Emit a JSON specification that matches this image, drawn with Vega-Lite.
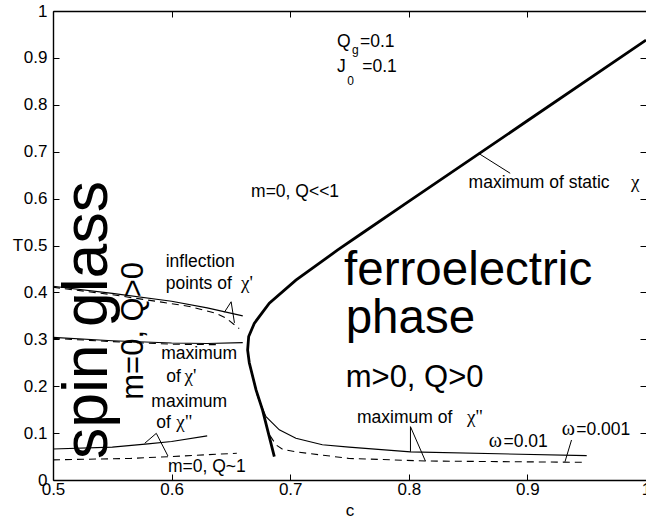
{
  "$schema": "https://vega.github.io/schema/vega-lite/v6.json",
  "width": 593,
  "height": 469,
  "autosize": {"type": "none"},
  "padding": {"left": 53, "top": 11, "right": 0, "bottom": 38},
  "config": {
    "view": {"stroke": null},
    "font": "Liberation Sans",
    "axis": {
      "grid": false,
      "domainColor": "black",
      "domainWidth": 1.4,
      "tickColor": "black",
      "tickWidth": 1,
      "tickSize": -6,
      "labelColor": "black",
      "labelFont": "Liberation Sans",
      "labelFontSize": 17,
      "labelFlush": false,
      "labelOverlap": false,
      "titleFont": "Liberation Sans",
      "titleFontSize": 17,
      "titleFontWeight": "normal",
      "titleColor": "black"
    }
  },
  "datasets": {
    "curves": [
      {"id": "ferro", "kind": "thick", "i": 1, "c": 1.0, "T": 0.938},
      {"id": "ferro", "kind": "thick", "i": 2, "c": 0.9, "T": 0.766},
      {"id": "ferro", "kind": "thick", "i": 3, "c": 0.8, "T": 0.594},
      {"id": "ferro", "kind": "thick", "i": 4, "c": 0.76, "T": 0.525},
      {"id": "ferro", "kind": "thick", "i": 5, "c": 0.7398, "T": 0.49},
      {"id": "ferro", "kind": "thick", "i": 6, "c": 0.7048, "T": 0.426},
      {"id": "ferro", "kind": "thick", "i": 7, "c": 0.6824, "T": 0.377},
      {"id": "ferro", "kind": "thick", "i": 8, "c": 0.6697, "T": 0.334},
      {"id": "ferro", "kind": "thick", "i": 9, "c": 0.665, "T": 0.306},
      {"id": "ferro", "kind": "thick", "i": 10, "c": 0.6641, "T": 0.277},
      {"id": "ferro", "kind": "thick", "i": 11, "c": 0.6655, "T": 0.25},
      {"id": "ferro", "kind": "thick", "i": 12, "c": 0.6712, "T": 0.192},
      {"id": "ferro", "kind": "thick", "i": 13, "c": 0.6767, "T": 0.149},
      {"id": "ferro", "kind": "thick", "i": 14, "c": 0.6824, "T": 0.092},
      {"id": "ferro", "kind": "thick", "i": 15, "c": 0.6866, "T": 0.05},

      {"id": "infl_s", "kind": "solid", "i": 1, "c": 0.5, "T": 0.413},
      {"id": "infl_s", "kind": "solid", "i": 2, "c": 0.55, "T": 0.398},
      {"id": "infl_s", "kind": "solid", "i": 3, "c": 0.6, "T": 0.381},
      {"id": "infl_s", "kind": "solid", "i": 4, "c": 0.63, "T": 0.367},
      {"id": "infl_s", "kind": "solid", "i": 5, "c": 0.66, "T": 0.35},

      {"id": "maxp_s", "kind": "solid", "i": 1, "c": 0.5, "T": 0.304},
      {"id": "maxp_s", "kind": "solid", "i": 2, "c": 0.55, "T": 0.297},
      {"id": "maxp_s", "kind": "solid", "i": 3, "c": 0.6, "T": 0.292},
      {"id": "maxp_s", "kind": "solid", "i": 4, "c": 0.63, "T": 0.291},
      {"id": "maxp_s", "kind": "solid", "i": 5, "c": 0.66, "T": 0.293},

      {"id": "chi2L_s", "kind": "solid", "i": 1, "c": 0.5, "T": 0.066},
      {"id": "chi2L_s", "kind": "solid", "i": 2, "c": 0.55, "T": 0.07},
      {"id": "chi2L_s", "kind": "solid", "i": 3, "c": 0.58, "T": 0.077},
      {"id": "chi2L_s", "kind": "solid", "i": 4, "c": 0.6, "T": 0.082},
      {"id": "chi2L_s", "kind": "solid", "i": 5, "c": 0.63, "T": 0.094},

      {"id": "chi2R_s", "kind": "solid", "i": 1, "c": 0.6712, "T": 0.192},
      {"id": "chi2R_s", "kind": "solid", "i": 2, "c": 0.6725, "T": 0.178},
      {"id": "chi2R_s", "kind": "solid", "i": 3, "c": 0.6796, "T": 0.135},
      {"id": "chi2R_s", "kind": "solid", "i": 4, "c": 0.6908, "T": 0.107},
      {"id": "chi2R_s", "kind": "solid", "i": 5, "c": 0.7048, "T": 0.089},
      {"id": "chi2R_s", "kind": "solid", "i": 6, "c": 0.7271, "T": 0.075},
      {"id": "chi2R_s", "kind": "solid", "i": 7, "c": 0.7496, "T": 0.07},
      {"id": "chi2R_s", "kind": "solid", "i": 8, "c": 0.8014, "T": 0.06},
      {"id": "chi2R_s", "kind": "solid", "i": 9, "c": 0.95, "T": 0.052},

      {"id": "infl_d", "kind": "dashed", "i": 1, "c": 0.5, "T": 0.411},
      {"id": "infl_d", "kind": "dashed", "i": 2, "c": 0.55, "T": 0.395},
      {"id": "infl_d", "kind": "dashed", "i": 3, "c": 0.6, "T": 0.376},
      {"id": "infl_d", "kind": "dashed", "i": 4, "c": 0.615, "T": 0.37},
      {"id": "infl_d", "kind": "dashed", "i": 5, "c": 0.638, "T": 0.355},
      {"id": "infl_d", "kind": "dashed", "i": 6, "c": 0.646, "T": 0.345},
      {"id": "infl_d", "kind": "dashed", "i": 7, "c": 0.657, "T": 0.323},

      {"id": "maxp_d", "kind": "dashed", "i": 1, "c": 0.5, "T": 0.302},
      {"id": "maxp_d", "kind": "dashed", "i": 2, "c": 0.55, "T": 0.295},
      {"id": "maxp_d", "kind": "dashed", "i": 3, "c": 0.6, "T": 0.2895},
      {"id": "maxp_d", "kind": "dashed", "i": 4, "c": 0.64, "T": 0.2885},

      {"id": "chi2L_d", "kind": "dashed", "i": 1, "c": 0.5, "T": 0.043},
      {"id": "chi2L_d", "kind": "dashed", "i": 2, "c": 0.565, "T": 0.046},
      {"id": "chi2L_d", "kind": "dashed", "i": 3, "c": 0.6, "T": 0.05},
      {"id": "chi2L_d", "kind": "dashed", "i": 4, "c": 0.655, "T": 0.057},

      {"id": "chi2R_d", "kind": "dashed", "i": 1, "c": 0.683, "T": 0.095},
      {"id": "chi2R_d", "kind": "dashed", "i": 2, "c": 0.688, "T": 0.075},
      {"id": "chi2R_d", "kind": "dashed", "i": 3, "c": 0.6935, "T": 0.0655},
      {"id": "chi2R_d", "kind": "dashed", "i": 4, "c": 0.7048, "T": 0.06},
      {"id": "chi2R_d", "kind": "dashed", "i": 5, "c": 0.7496, "T": 0.046},
      {"id": "chi2R_d", "kind": "dashed", "i": 6, "c": 0.814, "T": 0.0405},
      {"id": "chi2R_d", "kind": "dashed", "i": 7, "c": 0.95, "T": 0.0377}
    ],
    "leaders": [
      {"c": 0.8588, "T": 0.6965, "c2": 0.8855, "T2": 0.654},
      {"c": 0.6502, "T": 0.38, "c2": 0.6445, "T2": 0.3576},
      {"c": 0.6502, "T": 0.38, "c2": 0.653, "T2": 0.335},
      {"c": 0.5871, "T": 0.0995, "c2": 0.5773, "T2": 0.0782},
      {"c": 0.5871, "T": 0.0995, "c2": 0.5969, "T2": 0.0512},
      {"c": 0.8014, "T": 0.1137, "c2": 0.8014, "T2": 0.0603},
      {"c": 0.8014, "T": 0.1137, "c2": 0.814, "T2": 0.0405},
      {"c": 0.9372, "T": 0.0853, "c2": 0.9317, "T2": 0.039}
    ],
    "sans": [
      {"txt": "Q", "c": 0.7395, "T": 0.924, "size": 17.5},
      {"txt": "g", "c": 0.7521, "T": 0.909, "size": 12},
      {"txt": "=0.1", "c": 0.7588, "T": 0.924, "size": 17.5},
      {"txt": "J", "c": 0.7395, "T": 0.8706, "size": 17.5},
      {"txt": "0", "c": 0.7482, "T": 0.843, "size": 12},
      {"txt": "=0.1", "c": 0.7608, "T": 0.8706, "size": 17.5},
      {"txt": "m=0, Q<<1", "c": 0.667, "T": 0.604, "size": 17.5},
      {"txt": "maximum of static", "c": 0.8504, "T": 0.622, "size": 17.5},
      {"txt": "inflection", "c": 0.595, "T": 0.455, "size": 17.5},
      {"txt": "points of", "c": 0.595, "T": 0.4066, "size": 17.5},
      {"txt": "maximum", "c": 0.5913, "T": 0.258, "size": 17.5},
      {"txt": "of", "c": 0.5955, "T": 0.2096, "size": 17.5},
      {"txt": "maximum", "c": 0.5829, "T": 0.1563, "size": 17.5},
      {"txt": "of", "c": 0.5871, "T": 0.1102, "size": 17.5},
      {"txt": "m=0, Q~1", "c": 0.5969, "T": 0.017, "size": 17.5},
      {"txt": "maximum of", "c": 0.7563, "T": 0.1215, "size": 17.5},
      {"txt": "=0.01", "c": 0.8798, "T": 0.071, "size": 17.5},
      {"txt": "=0.001", "c": 0.9412, "T": 0.096, "size": 17.5},
      {"txt": "ferroelectric", "c": 0.7454, "T": 0.4158, "size": 47.5},
      {"txt": "phase", "c": 0.7468, "T": 0.3134, "size": 47.5},
      {"txt": "m>0, Q>0", "c": 0.7468, "T": 0.1989, "size": 31}
    ],
    "serif": [
      {"txt": "χ", "c": 0.9874, "T": 0.622, "size": 19},
      {"txt": "χ'", "c": 0.6586, "T": 0.4066, "size": 19},
      {"txt": "χ'", "c": 0.6109, "T": 0.2096, "size": 19},
      {"txt": "χ\"", "c": 0.604, "T": 0.1102, "size": 19},
      {"txt": "χ\"", "c": 0.849, "T": 0.1215, "size": 19},
      {"txt": "ω", "c": 0.8675, "T": 0.071, "size": 20},
      {"txt": "ω", "c": 0.929, "T": 0.096, "size": 20}
    ],
    "rotated": [
      {"txt": "spin glass", "c": 0.5454, "T": 0.341, "size": 62.5},
      {"txt": "m=0, Q>0", "c": 0.5756, "T": 0.318, "size": 31}
    ]
  },
  "layer": [
    {
      "data": {"name": "curves"},
      "transform": [{"filter": "datum.kind === 'thick'"}],
      "mark": {"type": "line", "color": "black", "strokeWidth": 2.8},
      "encoding": {
        "x": {
          "field": "c", "type": "quantitative",
          "scale": {"domain": [0.5, 1.0], "nice": false, "zero": false},
          "axis": {"orient": "bottom", "values": [0.5, 0.6, 0.7, 0.8, 0.9, 1.0], "format": "~g", "labelPadding": 7, "title": "c", "titleY": 35, "titleBaseline": "alphabetic"}
        },
        "y": {
          "field": "T", "type": "quantitative",
          "scale": {"domain": [0, 1], "nice": false, "zero": false},
          "axis": {"orient": "left", "values": [0, 0.1, 0.2, 0.3, 0.4, 0.5, 0.6, 0.7, 0.8, 0.9, 1.0], "format": "~g", "labelPadding": 12, "title": "T", "titleAngle": 0, "titleX": -35.5, "titleY": 234.5, "titleAlign": "center", "titleBaseline": "middle"}
        },
        "order": {"field": "i", "type": "quantitative"}
      }
    },
    {
      "data": {"name": "curves"},
      "transform": [{"filter": "datum.kind === 'solid'"}],
      "mark": {"type": "line", "color": "black", "strokeWidth": 1.1},
      "encoding": {
        "x": {
          "field": "c", "type": "quantitative",
          "axis": {"orient": "top", "values": [0.5, 0.6, 0.7, 0.8, 0.9, 1.0], "labels": false, "title": null}
        },
        "y": {
          "field": "T", "type": "quantitative",
          "axis": {"orient": "right", "values": [0, 0.1, 0.2, 0.3, 0.4, 0.5, 0.6, 0.7, 0.8, 0.9, 1.0], "labels": false, "domain": false, "title": null}
        },
        "detail": {"field": "id", "type": "nominal"},
        "order": {"field": "i", "type": "quantitative"}
      }
    },
    {
      "data": {"name": "curves"},
      "transform": [{"filter": "datum.kind === 'dashed'"}],
      "mark": {"type": "line", "color": "black", "strokeWidth": 1.1, "strokeDash": [7, 5]},
      "encoding": {
        "x": {"field": "c", "type": "quantitative", "axis": null},
        "y": {"field": "T", "type": "quantitative", "axis": null},
        "detail": {"field": "id", "type": "nominal"},
        "order": {"field": "i", "type": "quantitative"}
      }
    },
    {
      "data": {"name": "leaders"},
      "mark": {"type": "rule", "color": "black", "strokeWidth": 1},
      "encoding": {
        "x": {"field": "c", "type": "quantitative", "axis": null},
        "y": {"field": "T", "type": "quantitative", "axis": null},
        "x2": {"field": "c2"},
        "y2": {"field": "T2"}
      }
    },
    {
      "data": {"name": "sans"},
      "mark": {"type": "text", "align": "left", "baseline": "alphabetic", "font": "Liberation Sans", "color": "black"},
      "encoding": {
        "x": {"field": "c", "type": "quantitative", "axis": null},
        "y": {"field": "T", "type": "quantitative", "axis": null},
        "text": {"field": "txt"},
        "size": {"field": "size", "type": "quantitative", "scale": null}
      }
    },
    {
      "data": {"name": "serif"},
      "mark": {"type": "text", "align": "left", "baseline": "alphabetic", "font": "Liberation Serif", "color": "black"},
      "encoding": {
        "x": {"field": "c", "type": "quantitative", "axis": null},
        "y": {"field": "T", "type": "quantitative", "axis": null},
        "text": {"field": "txt"},
        "size": {"field": "size", "type": "quantitative", "scale": null}
      }
    },
    {
      "data": {"name": "rotated"},
      "mark": {"type": "text", "align": "center", "baseline": "alphabetic", "angle": 270, "font": "Liberation Sans", "color": "black"},
      "encoding": {
        "x": {"field": "c", "type": "quantitative", "axis": null},
        "y": {"field": "T", "type": "quantitative", "axis": null},
        "text": {"field": "txt"},
        "size": {"field": "size", "type": "quantitative", "scale": null}
      }
    }
  ],
  "resolve": {"axis": {"x": "independent", "y": "independent"}}
}
